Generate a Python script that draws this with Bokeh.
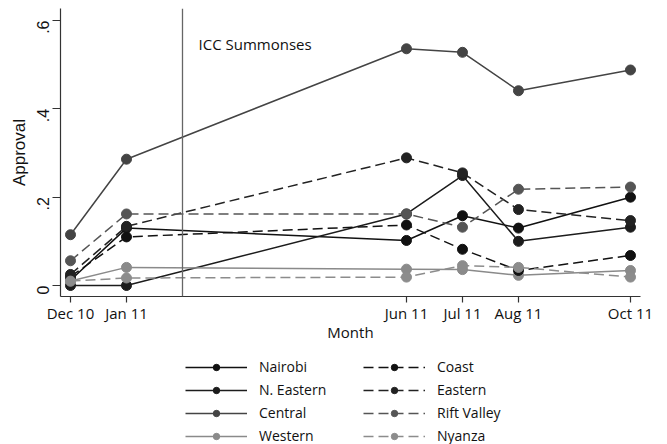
import math
from bokeh.plotting import figure
from bokeh.layouts import column
from bokeh.models import (ColumnDataSource, FixedTicker, Span, Label, Legend,
                          LegendItem, Range1d)
from bokeh.embed import file_html
from bokeh.resources import INLINE

# Months since December 2010
months = [0, 1, 6, 7, 8, 10]
month_labels = ["Dec 10", "Jan 11", "Jun 11", "Jul 11", "Aug 11", "Oct 11"]

# Approval share by province
nairobi = [0.012, 0.130, 0.102, 0.158, 0.130, 0.200]
n_eastern = [0.000, 0.000, 0.162, 0.249, 0.100, 0.132]
central = [0.115, 0.286, 0.536, 0.528, 0.441, 0.488]
western = [0.010, 0.041, 0.037, 0.036, 0.023, 0.034]
coast = [0.020, 0.110, 0.137, 0.082, 0.034, 0.068]
eastern = [0.025, 0.134, 0.289, 0.255, 0.172, 0.147]
rift_valley = [0.056, 0.162, 0.162, 0.132, 0.218, 0.223]
nyanza = [0.010, 0.017, 0.019, 0.045, 0.041, 0.019]

y_ticks = [0, 0.2, 0.4, 0.6]
y_tick_labels = ["0", ".2", ".4", ".6"]

summons_month = 2
summons_label = "ICC Summonses"

FONT = "Open Sans"
YFONT = "Liberation Sans"
DASH = "10 5"

series = [
    ("Nairobi", nairobi, "#111111", "solid"),
    ("N. Eastern", n_eastern, "#1c1c1c", "solid"),
    ("Central", central, "#444444", "solid"),
    ("Western", western, "#8a8a8a", "solid"),
    ("Coast", coast, "#111111", DASH),
    ("Eastern", eastern, "#222222", DASH),
    ("Rift Valley", rift_valley, "#555555", DASH),
    ("Nyanza", nyanza, "#8c8c8c", DASH),
]

p = figure(width=667, height=350, output_backend="svg", toolbar_location=None,
           x_range=Range1d(-0.1786, 10.179), y_range=Range1d(-0.0249, 0.6272),
           min_border_left=60, min_border_right=27, min_border_top=8,
           min_border_bottom=54)
p.outline_line_color = None
p.xgrid.visible = False
p.ygrid.visible = False

# Axes
p.xaxis.ticker = FixedTicker(ticks=months)
p.xaxis.major_label_overrides = {m: lab for m, lab in zip(months, month_labels)}
p.xaxis.axis_label = "Month"
p.yaxis.ticker = FixedTicker(ticks=y_ticks)
p.yaxis.major_label_overrides = {t: lab for t, lab in zip(y_ticks, y_tick_labels)}
p.yaxis.axis_label = "Approval"
p.yaxis.major_label_orientation = math.pi / 2
for ax in (p.xaxis, p.yaxis):
    ax.minor_tick_line_color = None
    ax.major_tick_in = 0
    ax.axis_line_color = "#333333"
    ax.major_tick_line_color = "#333333"
    ax.axis_line_width = 1.2
    ax.major_tick_line_width = 1.2
    ax.major_label_text_color = "#111111"
    ax.axis_label_text_font_style = "normal"
    ax.axis_label_text_color = "#111111"
p.xaxis.major_tick_out = 6
p.yaxis.major_tick_out = 8
p.xaxis.major_label_text_font = FONT
p.xaxis.major_label_text_font_size = "15px"
p.xaxis.axis_label_text_font = FONT
p.xaxis.axis_label_text_font_size = "15px"
p.yaxis.major_label_text_font = YFONT
p.yaxis.major_label_text_font_size = "16px"
p.yaxis.axis_label_text_font = YFONT
p.yaxis.axis_label_text_font_size = "17px"
p.xaxis.major_label_standoff = 0
p.xaxis.axis_label_standoff = -4
p.yaxis.major_label_standoff = 9
p.yaxis.axis_label_standoff = 0

# Summons marker
p.add_layout(Span(location=summons_month, dimension="height",
                  line_color="#666666", line_width=1.3))
p.add_layout(Label(x=summons_month, y=0.546, x_offset=16, text=summons_label,
                   text_font=FONT, text_font_size="15px", text_color="#111111",
                   text_baseline="middle"))

# Legend panel below the chart
lp = figure(width=667, height=94, output_backend="svg", toolbar_location=None,
            x_range=Range1d(0, 1), y_range=Range1d(0, 1),
            min_border_left=60, min_border_right=27,
            min_border_top=0, min_border_bottom=0)
lp.axis.visible = False
lp.xgrid.visible = False
lp.ygrid.visible = False
lp.outline_line_color = None

nan = float("nan")
items = []
for name, vals, color, dash in series:
    src = ColumnDataSource(dict(x=months, y=vals))
    p.line("x", "y", source=src, line_color=color, line_width=1.5, line_dash=dash)
    p.scatter("x", "y", source=src, size=10, fill_color=color, line_color=color)
    # legend swatch with a smaller marker (no visible data of its own)
    blank = ColumnDataSource(dict(x=[nan], y=[nan]))
    lr = lp.line("x", "y", source=blank, line_color=color, line_width=1.5,
                 line_dash=dash)
    sr = lp.scatter("x", "y", source=blank, size=7, fill_color=color,
                    line_color=color)
    items.append(LegendItem(label=name, renderers=[lr, sr]))


def make_legend(its, x, y):
    return Legend(items=its, location=(x, y), orientation="vertical",
                  glyph_width=62, glyph_height=16, label_height=16, spacing=4,
                  padding=0, margin=0, label_standoff=12,
                  label_text_font=FONT, label_text_font_size="14px",
                  label_text_color="#111111", label_text_baseline="middle",
                  background_fill_alpha=0, border_line_color=None)


lp.add_layout(make_legend(items[:4], 125, -1))
lp.add_layout(make_legend(items[4:], 303, -1))

layout = column(p, lp, spacing=0)
open("out.html", "w").write(file_html(layout, INLINE))
